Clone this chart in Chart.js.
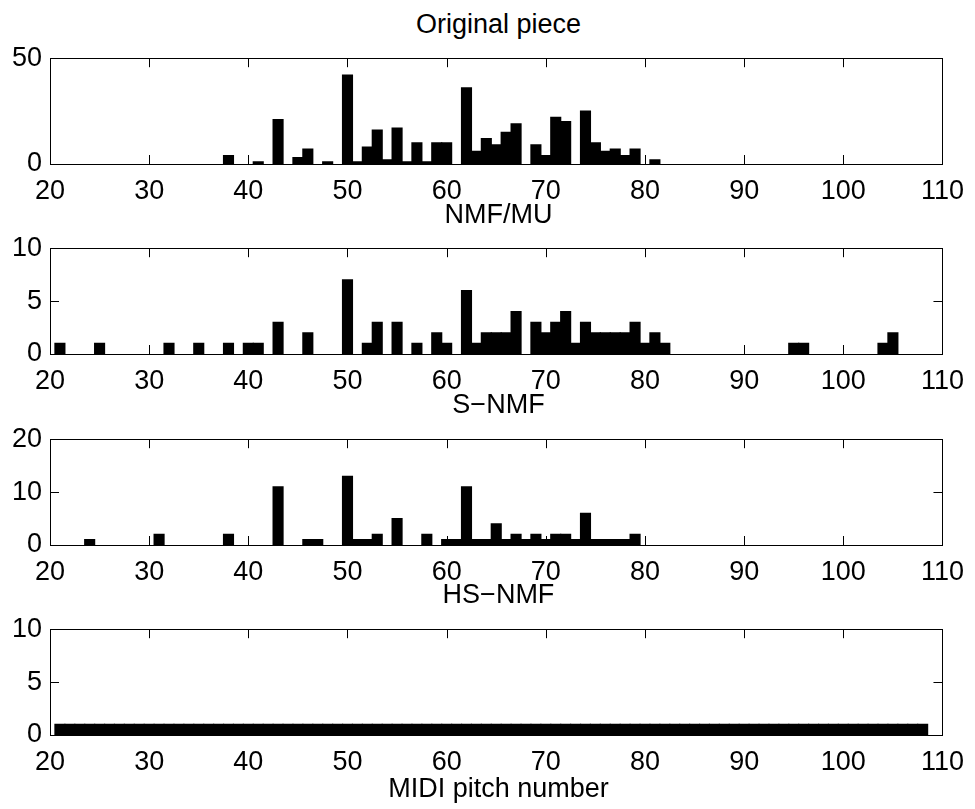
<!DOCTYPE html>
<html>
<head>
<meta charset="utf-8">
<title>Pitch histograms</title>
<script src="https://cdn.jsdelivr.net/npm/chart.js@4.4.1/dist/chart.umd.min.js"></script>
<style>
  html, body { margin: 0; padding: 0; background: #fff; }
  #page { position: relative; width: 975px; height: 809px; overflow: hidden; }
  #page canvas { position: absolute; left: 0; }
  .label {
    position: absolute; left: 50px; width: 897px; text-align: center;
    font-family: "Liberation Sans", Arial, Helvetica, sans-serif;
    font-size: 27px; line-height: 27px; color: #000; white-space: nowrap;
  }
</style>
</head>
<body>
<div id="page">
  <div class="label" style="top:11px">Original piece</div>
  <canvas id="orig" width="975" height="175" style="top:34px"></canvas>
  <div class="label" style="top:201px">NMF/MU</div>
  <canvas id="nmf" width="975" height="175" style="top:224px"></canvas>
  <div class="label" style="top:391px">S−NMF</div>
  <canvas id="snmf" width="975" height="175" style="top:415px"></canvas>
  <div class="label" style="top:581px">HS−NMF</div>
  <canvas id="hsnmf" width="975" height="175" style="top:605px"></canvas>
  <div class="label" style="top:775px">MIDI pitch number</div>
</div>
<script>
// Pitch histograms: original piece vs. transcriptions

const origPitch = [38, 41, 43, 45, 46, 48, 50, 51, 52, 53, 54, 55, 56, 57, 58, 59, 60,
                   62, 63, 64, 65, 66, 67, 69, 70, 71, 72, 74, 75, 76, 77, 78, 79, 81];
const origCount = [4, 1, 21, 3, 7, 1, 42, 1, 8, 16, 2, 17, 1, 10, 1, 10, 10,
                   36, 6, 12, 9, 15, 19, 9, 4, 22, 20, 25, 10, 6, 7, 4, 7, 2];

const nmfPitch = [21, 25, 32, 35, 38, 40, 41, 43, 46, 50, 52, 53, 55, 57, 59, 60, 62, 63, 64, 65,
                  66, 67, 69, 70, 71, 72, 73, 74, 75, 76, 77, 78, 79, 80, 81, 82, 95, 96, 104, 105];
const nmfCount = [1, 1, 1, 1, 1, 1, 1, 3, 2, 7, 1, 3, 3, 1, 2, 1, 6, 1, 2, 2,
                  2, 4, 3, 2, 3, 4, 1, 3, 2, 2, 2, 2, 3, 1, 2, 1, 1, 1, 1, 2];

const snmfPitch = [24, 31, 38, 43, 46, 47, 50, 51, 52, 53, 55, 58, 60, 61, 62, 63,
                   64, 65, 66, 67, 68, 69, 70, 71, 72, 73, 74, 75, 76, 77, 78, 79];
const snmfCount = [1, 2, 2, 11, 1, 1, 13, 1, 1, 2, 5, 2, 1, 1, 11, 1,
                   1, 4, 1, 2, 1, 2, 1, 2, 2, 1, 6, 1, 1, 1, 1, 2];

const hsPitch = [21, 22, 23, 24, 25, 26, 27, 28, 29, 30, 31, 32, 33, 34, 35, 36, 37, 38, 39, 40,
                 41, 42, 43, 44, 45, 46, 47, 48, 49, 50, 51, 52, 53, 54, 55, 56, 57, 58, 59, 60,
                 61, 62, 63, 64, 65, 66, 67, 68, 69, 70, 71, 72, 73, 74, 75, 76, 77, 78, 79, 80,
                 81, 82, 83, 84, 85, 86, 87, 88, 89, 90, 91, 92, 93, 94, 95, 96, 97, 98, 99, 100,
                 101, 102, 103, 104, 105, 106, 107, 108];
const hsCount = [1, 1, 1, 1, 1, 1, 1, 1, 1, 1, 1, 1, 1, 1, 1, 1, 1, 1, 1, 1,
                 1, 1, 1, 1, 1, 1, 1, 1, 1, 1, 1, 1, 1, 1, 1, 1, 1, 1, 1, 1,
                 1, 1, 1, 1, 1, 1, 1, 1, 1, 1, 1, 1, 1, 1, 1, 1, 1, 1, 1, 1,
                 1, 1, 1, 1, 1, 1, 1, 1, 1, 1, 1, 1, 1, 1, 1, 1, 1, 1, 1, 1,
                 1, 1, 1, 1, 1, 1, 1, 1];

const xMin = 20;
const xMax = 110;
const xStep = 10;

const FONT = { family: '"Liberation Sans", Arial, Helvetica, sans-serif', size: 27 };
const TICK_LEN = 9;

// MATLAB-style box with tick marks pointing inward on all four sides
const matlabAxes = {
    id: 'matlabAxes',
    afterDatasetsDraw(chart) {
        const { ctx, chartArea: a, scales: { x, y } } = chart;
        ctx.save();
        ctx.strokeStyle = '#000';
        ctx.lineWidth = 1;
        ctx.beginPath();
        x.ticks.forEach(t => {
            const px = Math.round(x.getPixelForValue(t.value)) + 0.5;
            ctx.moveTo(px, a.top);
            ctx.lineTo(px, a.top + TICK_LEN);
            ctx.moveTo(px, a.bottom);
            ctx.lineTo(px, a.bottom - TICK_LEN);
        });
        y.ticks.forEach(t => {
            const py = Math.round(y.getPixelForValue(t.value)) + 0.5;
            ctx.moveTo(a.left, py);
            ctx.lineTo(a.left + TICK_LEN, py);
            ctx.moveTo(a.right, py);
            ctx.lineTo(a.right - TICK_LEN, py);
        });
        ctx.stroke();
        ctx.strokeRect(Math.round(a.left) + 0.5, Math.round(a.top) + 0.5,
                       Math.round(a.right - a.left), Math.round(a.bottom - a.top));
        ctx.restore();
    }
};

function makePanel(canvasId, pitches, counts, yMax, yStep) {
    const ctx = document.getElementById(canvasId).getContext('2d');
    return new Chart(ctx, {
        type: 'bar',
        data: {
            datasets: [{
                data: pitches.map((p, i) => ({ x: p, y: counts[i] })),
                backgroundColor: '#000',
                borderWidth: 0,
                inflateAmount: 0.6,
                barPercentage: 1,
                categoryPercentage: 1
            }]
        },
        options: {
            responsive: false,
            animation: false,
            layout: { padding: { top: 20, right: 28, bottom: 0, left: 0 } },
            plugins: {
                legend: { display: false },
                tooltip: { enabled: false }
            },
            scales: {
                x: {
                    type: 'linear',
                    min: xMin,
                    max: xMax,
                    offset: false,
                    grid: { display: false, drawTicks: false },
                    border: { display: false },
                    ticks: { stepSize: xStep, padding: 11, color: '#000', font: FONT, maxRotation: 0, autoSkip: false },
                    afterFit: s => { s.height = 45; }
                },
                y: {
                    min: 0,
                    max: yMax,
                    grid: { display: false, drawTicks: false },
                    border: { display: false },
                    ticks: { stepSize: yStep, padding: 8, color: '#000', font: FONT },
                    afterFit: s => { s.width = 50; }
                }
            }
        },
        plugins: [matlabAxes]
    });
}

makePanel('orig', origPitch, origCount, 50, 50);
makePanel('nmf', nmfPitch, nmfCount, 10, 5);
makePanel('snmf', snmfPitch, snmfCount, 20, 10);
makePanel('hsnmf', hsPitch, hsCount, 10, 5);
</script>
</body>
</html>
